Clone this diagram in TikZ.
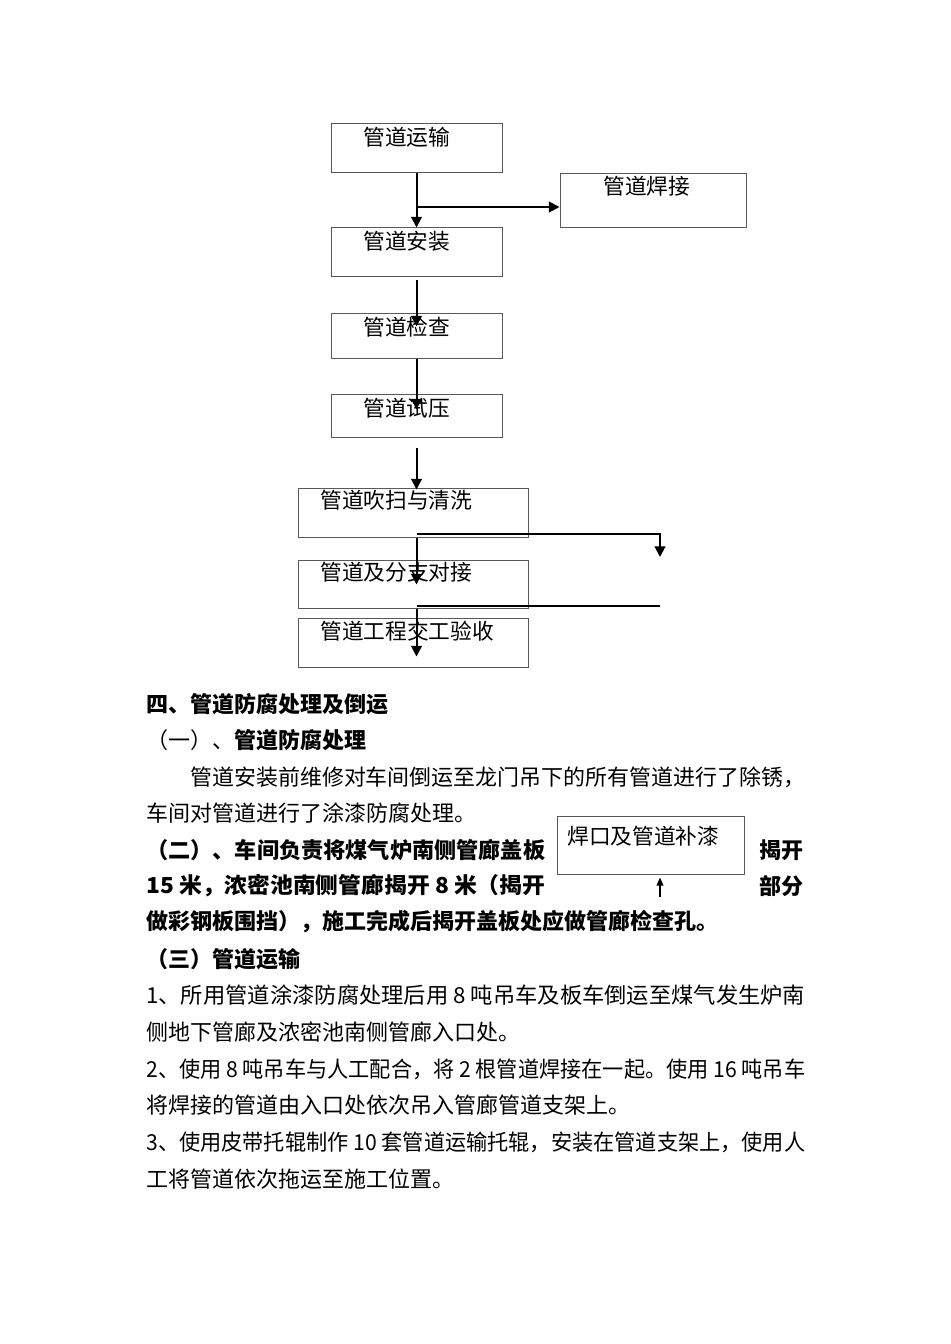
\documentclass[tikz,border=0pt]{standalone}
\usepackage{fontspec}
\usepackage{graphicx}
\setmainfont{Noto Sans CJK SC}
\usetikzlibrary{arrows.meta,calc,fit}
\newcommand{\fitw}[2]{\resizebox{#1}{\height}{#2}}
\begin{document}
\begin{tikzpicture}[x=0.75pt,y=-0.75pt,
  box/.style={draw=black!65,line width=0.75pt,inner sep=0pt},
  lbl/.style={inner sep=0pt,anchor=west,font=\fontsize{16.3pt}{18pt}\selectfont},
  txt/.style={inner sep=0pt,anchor=west,font=\fontsize{16.5pt}{18pt}\selectfont},
  btxt/.style={inner sep=0pt,anchor=west,font=\fontsize{16.5pt}{18pt}\selectfont\bfseries},
  arr/.style={line width=1.5pt,-{Triangle[length=8pt,width=8pt]}},
  sarr/.style={line width=1.1pt,-{Triangle[length=6pt,width=5pt]}},
  ln/.style={line width=1.5pt}]
\useasboundingbox (0,0) rectangle (950,1344);
% boxes
\node[box,fit={(331,124) (502,173)}] (yunshu) {};
\node[box,fit={(560,174) (746,228)}] (hanjie) {};
\node[box,fit={(331,228) (502,277)}] (anzhuang) {};
\node[box,fit={(331,314) (502,358)}] (jiancha) {};
\node[box,fit={(331,394) (502,437)}] (shiya) {};
\node[box,fit={(298,488) (528,537)}] (chuisao) {};
\node[box,fit={(298,560) (528,608)}] (duijie) {};
\node[box,fit={(298,618) (528,667)}] (yanshou) {};
\node[box,fit={(557,816) (744,874)}] (buqi) {};
% box labels
\node[lbl] (t1) at (363,137) {管道运输};
\node[lbl] (t2) at (603,186) {管道焊接};
\node[lbl] (t3) at (363,241) {管道安装};
\node[lbl] (t4) at (363,327) {管道检查};
\node[lbl] (t5) at (363,408) {管道试压};
\node[lbl] (t6) at (320,500) {管道吹扫与清洗};
\node[lbl] (t7) at (320,572) {管道及分支对接};
\node[lbl] (t8) at (320,631) {管道工程交工验收};
\node[lbl] (t9) at (567,836) {焊口及管道补漆};
% connectors
\coordinate (c1) at (416,207);
\draw[arr] (yunshu.south) -- (anzhuang.north);
\draw[arr] (c1) -- (c1 -| hanjie.west);
\draw[arr] ($(anzhuang.south)+(0,3)$) -- ($(jiancha.north)+(0,13)$);
\draw[arr] (jiancha.south) -- ($(shiya.north)+(0,16)$);
\draw[arr] ($(shiya.south)+(0,10)$) -- ($(shiya.south |- chuisao.north)+(0,2)$);
\draw[arr] (shiya.south |- chuisao.south) -- ($(shiya.south |- duijie.north)+(0,25)$);
\draw[arr] (shiya.south |- duijie.south) -- ($(shiya.south |- yanshou.north)+(0,39)$);
\coordinate (r1) at (660,534);
\draw[arr] (shiya.south |- r1) -| ($(r1)+(0,23)$);
\coordinate (r2) at (660,606);
\draw[ln] (shiya.south |- r2) -- (r2);
\coordinate (u1) at (660,897);
\draw[sarr] (u1) -- ($(u1 |- buqi.south)+(0,3)$);
% text
\node[btxt] (h4) at (146,704) {四、管道防腐处理及倒运};
\node[txt] (h41) at (146,740) {（一）、{\bfseries 管道防腐处理}};
\node[txt] (p1) at (190,777) {\fitw{461.25pt}{管道安装前维修对车间倒运至龙门吊下的所有管道进行了除锈，}};
\node[txt] (p2) at (146,813) {车间对管道进行了涂漆防腐处理。};
\node[btxt] (p3a) at (146,850) {\fitw{299.25pt}{（二）、车间负责将煤气炉南侧管廊盖板}};
\node[btxt] (p3b) at (759,850) {揭开};
\node[btxt] (p4a) at (146,886) {\fitw{299.25pt}{15 米，浓密池南侧管廊揭开 8 米（揭开}};
\node[btxt] (p4b) at (759,886) {部分};
\node[btxt] (p5) at (146,922) {做彩钢板围挡），施工完成后揭开盖板处应做管廊检查孔。};
\node[btxt] (h43) at (146,959) {（三）管道运输};
\node[txt] (q1) at (146,995) {\fitw{494.25pt}{1、所用管道涂漆防腐处理后用 8 吨吊车及板车倒运至煤气发生炉南}};
\node[txt] (q2) at (146,1032) {侧地下管廊及浓密池南侧管廊入口处。};
\node[txt] (q3) at (146,1069) {\fitw{494.25pt}{2、使用 8 吨吊车与人工配合，将 2 根管道焊接在一起。使用 16 吨吊车}};
\node[txt] (q4) at (146,1105) {将焊接的管道由入口处依次吊入管廊管道支架上。};
\node[txt] (q5) at (146,1142) {\fitw{494.25pt}{3、使用皮带托辊制作 10 套管道运输托辊，安装在管道支架上，使用人}};
\node[txt] (q6) at (146,1179) {工将管道依次拖运至施工位置。};
\end{tikzpicture}
\end{document}
